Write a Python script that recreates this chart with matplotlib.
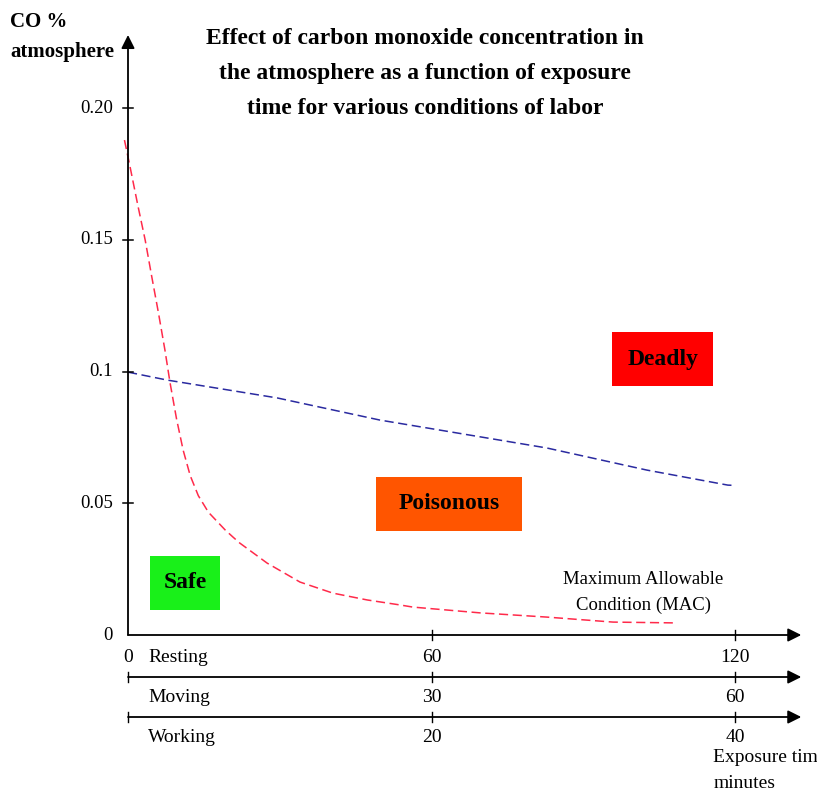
import matplotlib.pyplot as plt
from matplotlib.patches import Rectangle

# Exposure time (resting scale, minutes) and CO %
red_t = [-0.7, 0.4, 2.0, 3.4, 4.7, 6.0, 7.3, 8.3, 9.6, 10.9, 12.3, 13.9, 15.9,
         19.2, 20.8, 22.1, 27.5, 34.0, 40.5, 47.3, 53.8, 56.3, 69.6, 82.8,
         95.9, 107.8]
red_co = [0.1879, 0.1778, 0.1626, 0.1499, 0.1360, 0.1225, 0.1082, 0.0959,
          0.0820, 0.0702, 0.0605, 0.0529, 0.0466, 0.0399, 0.0371, 0.0349,
          0.0273, 0.0201, 0.0159, 0.0133, 0.0114, 0.0106, 0.0084, 0.0068,
          0.0049, 0.0046]

blue_t = [0.0, 7.7, 29.5, 49.8, 82.8, 102.6, 118.6, 120.0]
blue_co = [0.0998, 0.0968, 0.0900, 0.0816, 0.0710, 0.0626, 0.0569, 0.0568]

y_ticks = [0.0, 0.05, 0.10, 0.15, 0.20]
y_tick_labels = ["0", "0.05", "0.1", "0.15", "0.20"]

x_tick_pos = [0, 60, 120]
scales = ["Resting", "Moving", "Working"]
scale_labels = [["0", "60", "120"], ["", "30", "60"], ["", "20", "40"]]

zones = ["Safe", "Poisonous", "Deadly"]
zone_colors = ["#19F019", "#FF5500", "#FF0000"]
zone_boxes = [(4.35, 0.0095, 13.9, 0.0205), (49.0, 0.0395, 28.9, 0.0205),
              (95.7, 0.0945, 20.0, 0.0205)]

PXX = 607 / 120.0    # pixels per minute
PXY = 131.7 / 0.05   # pixels per CO unit
X0, Y0 = 128, 635    # pixel of the origin


def py(p):
    """pixel row -> data y"""
    return (Y0 - p) / PXY


fig = plt.figure(figsize=(8.17, 7.90), dpi=100)
ax = fig.add_axes([0, 0, 1, 1])
ax.set_xlim(-X0 / PXX, (817 - X0) / PXX)
ax.set_ylim(py(790), py(0))
ax.axis("off")

serif = "Liberation Serif"

# curves
ax.plot(red_t, red_co, color="#FF2A4A", lw=1.1, dashes=(6, 3))
ax.plot(blue_t, blue_co, color="#2A2AA0", lw=1.1, dashes=(6, 3))

# y axis with arrow
ax.annotate("", xy=(0, py(35)), xytext=(0, 0),
            arrowprops=dict(arrowstyle="-|>", color="black", lw=1.3,
                            mutation_scale=20, shrinkA=0, shrinkB=0))
dx = 4.5 / PXX
for v, lab in zip(y_ticks, y_tick_labels):
    if v > 0:
        ax.plot([-dx, dx], [v, v], color="black", lw=1.1)
    ax.text(-3.0, v, lab, ha="right", va="center", fontsize=13.5, family=serif)

# three time axes
row_y = [0.0, py(677), py(717)]
lab_y = [py(658), py(697), py(737)]
dy = 5 / PXY
for i, (ry, ly) in enumerate(zip(row_y, lab_y)):
    ax.annotate("", xy=(133.1, ry), xytext=(0, ry),
                arrowprops=dict(arrowstyle="-|>", color="black", lw=1.3,
                                mutation_scale=20, shrinkA=0, shrinkB=0))
    for j, xp in enumerate(x_tick_pos):
        if not (i == 0 and j == 0):
            ax.plot([xp, xp], [ry - dy, ry + dy], color="black", lw=1.0)
        if scale_labels[i][j]:
            ax.text(xp, ly, scale_labels[i][j], ha="center", va="center",
                    fontsize=14, family=serif)
    ax.text(4.0, ly, scales[i], ha="left", va="center", fontsize=14,
            family=serif)

# the reference shows this label clipped at the right edge
ax.text(115.7, py(757), "Exposure tim", ha="left", va="center", fontsize=14,
        family=serif)
ax.text(115.7, py(783), "minutes", ha="left", va="center", fontsize=14,
        family=serif)

# zone boxes
for name, col, (x0, y0, w, h) in zip(zones, zone_colors, zone_boxes):
    ax.add_patch(Rectangle((x0, y0), w, h, facecolor=col, edgecolor="none"))
    ax.text(x0 + w / 2, y0 + h / 2, name, ha="center", va="center",
            fontsize=17, fontweight="bold", family=serif)

ax.text(101.9, py(579), "Maximum Allowable", ha="center", va="center",
        fontsize=13.5, family=serif)
ax.text(101.9, py(605), "Condition (MAC)", ha="center", va="center",
        fontsize=13.5, family=serif)

# y label
ax.text(-23.3, py(22), "CO %", ha="left", va="center", fontsize=15,
        fontweight="bold", family=serif)
ax.text(-23.3, py(52), "atmosphere", ha="left", va="center", fontsize=15,
        fontweight="bold", family=serif)

# title
title = ["Effect of carbon monoxide concentration in",
         "the atmosphere as a function of exposure",
         "time for various conditions of labor"]
for k, line in enumerate(title):
    ax.text(58.7, py(39 + 35 * k), line, ha="center", va="center",
            fontsize=17, fontweight="bold", family=serif)

fig.savefig("out.png", dpi=100)
